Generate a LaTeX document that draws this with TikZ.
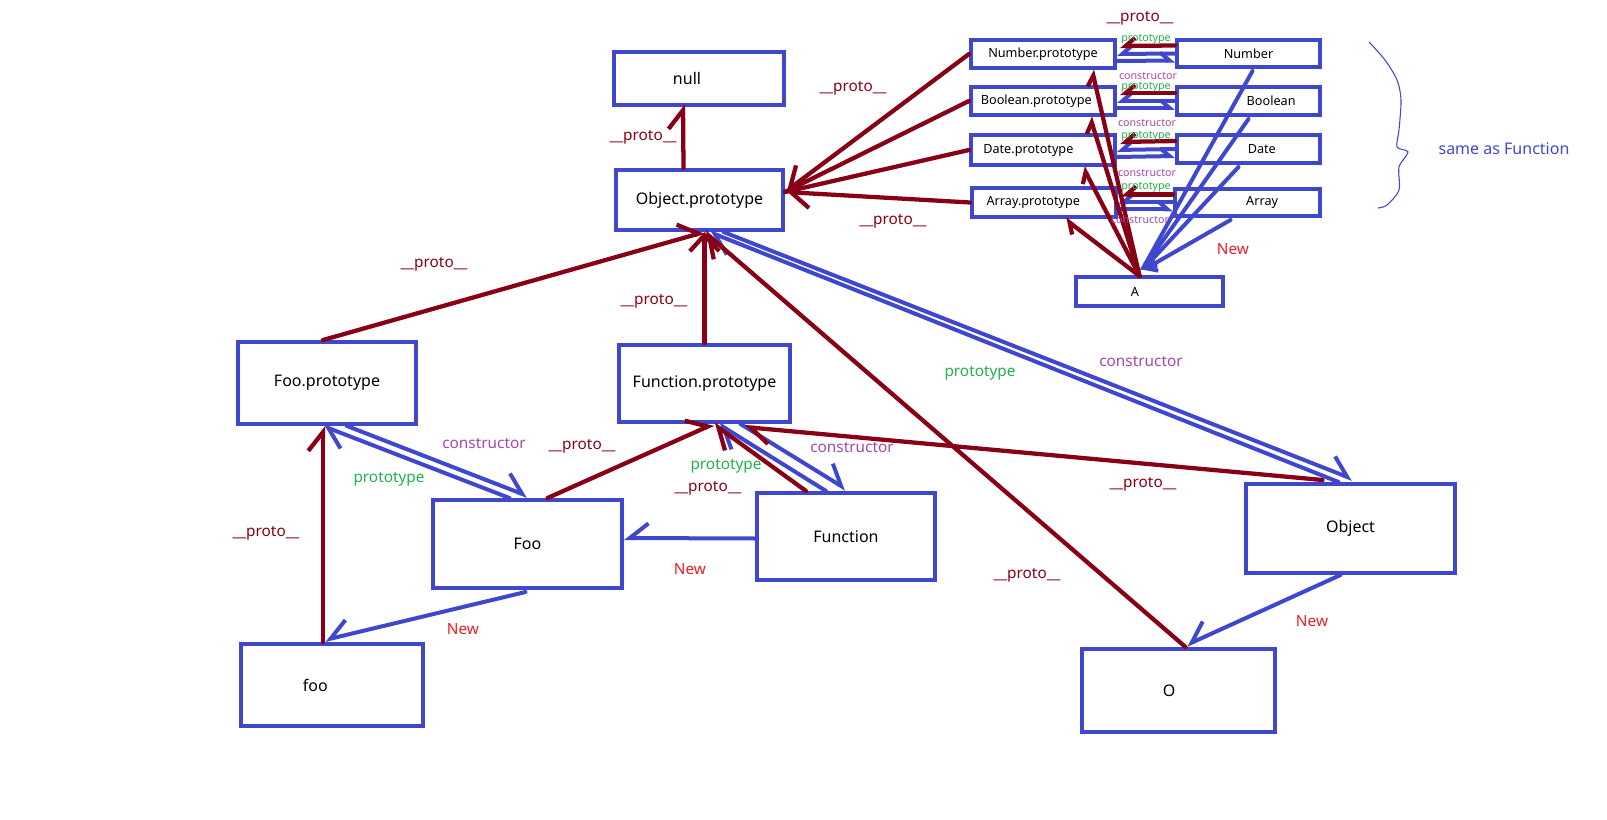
\documentclass[tikz,border=0pt]{standalone}
\usepackage{fontspec}
\setmainfont{Noto Sans}
\usetikzlibrary{arrows.meta, calc}

\definecolor{pblue}{RGB}{63,72,204}
\definecolor{pred}{RGB}{136,0,21}
\definecolor{pgreen}{RGB}{34,177,76}
\definecolor{ppurple}{RGB}{163,73,164}
\definecolor{pnew}{RGB}{237,28,36}

\begin{document}
\begin{tikzpicture}[
    x=0.75pt, y=-0.75pt,
    box/.style 2 args={draw=pblue, line width=3pt, minimum width=#1*0.75pt,
      minimum height=#2*0.75pt, inner sep=0pt, font=\fontsize{12}{14}\selectfont},
    sbox/.style 2 args={box={#1}{#2}, font=\fontsize{9.5}{11}\selectfont},
    proto/.style={draw=pred, line width=3.2pt, line cap=round},
    link/.style={draw=pblue, line width=3pt, line cap=round},
    hl/.style={-{Straight Barb[harpoon, length=14pt, width=22pt]}},
    hr/.style={-{Straight Barb[harpoon, swap, length=14pt, width=22pt]}},
    hv/.style={-{Straight Barb[length=12pt, width=22pt]}},
    sl/.style={-{Straight Barb[harpoon, length=7pt, width=12pt]}},
    sr/.style={-{Straight Barb[harpoon, swap, length=7pt, width=12pt]}},
    lbl/.style={inner sep=0pt, font=\fontsize{11.5}{13}\selectfont},
    tiny/.style={inner sep=0pt, font=\fontsize{8}{9}\selectfont}
  ]
  \useasboundingbox (0,0) rectangle (1607,820);

  % boxes
  \node[box={170}{53}] (null) at (699,78.5) {null\hspace*{18pt}};
  \node[box={167}{60}] (objp) at (699.5,200) {Object.prototype};
  \node[box={171}{77}] (funp) at (704.5,383.5) {Function.prototype};
  \node[box={178}{82}] (foop) at (327,383) {Foo.prototype};
  \node[box={189}{88}] (foo) at (527.5,544) {Foo};
  \node[box={182}{82}] (fooinst) at (332,685) {foo\hspace*{25pt}};
  \node[box={178}{87}] (func) at (846,536.5) {Function};
  \node[box={209}{89}] (obj) at (1350.5,528.5) {Object};
  \node[box={193}{83}] (oinst) at (1178.5,690.5) {O\hspace*{14pt}};

  \node[sbox={144}{28}] (nump) at (1043,54) {Number.prototype};
  \node[sbox={143}{27}] (num) at (1248.5,53.5) {Number};
  \node[sbox={144}{28}] (boolp) at (1043,101) {Boolean.prototype\hspace*{10pt}};
  \node[sbox={143}{28}] (bool) at (1248.5,101) {\hspace*{34pt}Boolean};
  \node[sbox={144}{30}] (datep) at (1043,150) {Date.prototype\hspace*{22pt}};
  \node[sbox={143}{28}] (date) at (1248.5,149) {\hspace*{20pt}Date};
  \node[sbox={144}{29}] (arrp) at (1044,202.5) {Array.prototype\hspace*{16pt}};
  \node[sbox={145}{27}] (arr) at (1247.5,202.5) {\hspace*{22pt}Array};
  \node[sbox={147}{29}] (A) at (1149.5,291.5) {A\hspace*{22pt}};

  % prototype / constructor / New
  \draw[link, hl] ($(foo.north)+(-18,0)$) -- ($(foop.south)+(-4,0)$);
  \draw[link, hl] ($(foop.south)+(20,0)$) -- ($(foo.north)+(0,-2)$);
  \draw[link, hl] ($(func.north)+(-20,0)$) -- ($(funp.south)+(14,0)$);
  \draw[link, hl] ($(funp.south)+(36,0)$) -- ($(func.north)+(0,-2)$);
  \draw[link, hl] ($(obj.north)+(-12,0)$) -- ($(objp.south)+(10,0)$);
  \draw[link, hl] ($(objp.south)+(24,0)$) -- ($(obj.north)+(2,-3)$);
  \draw[link, hr] ($(func.west)+(0,2)$) -- ($(foo.east)+(0,-6)$);
  \draw[link, hr] ($(foo.south)+(-2,2)$) -- ($(fooinst.north)+(-7,-2)$);
  \draw[link, hr] ($(obj.south)+(-10,0)$) -- ($(oinst.north)+(8,-2)$);

  \foreach \p/\c/\dx in {nump/num/4, boolp/bool/0, datep/date/-10, arrp/arr/-17} {
    \draw[link, sr] ($(\c.west)+(0,0)$) -- ($(\p.east)+(0,0)$);
    \draw[link, sl] ($(\p.east)+(0,7)$) -- ($(\c.west)+(0,7)$);
    \draw[link, sl] ($(\c.south)+(\dx,2)$) -- ($(A.north)+(-8,-4)$);
  }

  % __proto__
  \draw[proto, hl] ($(objp.north)+(-16,0)$) -- ($(null.south)+(-16,-3)$);
  \draw[proto, hr] (nump.west) -- ($(objp.east)+(0,-8)$);
  \draw[proto] (boolp.west) -- ($(objp.east)+(0,-8)$);
  \draw[proto] (datep.west) -- ($(objp.east)+(0,-8)$);
  \draw[proto, hl] (arrp.west) -- ($(objp.east)+(0,-8)$);
  \draw[proto, hl] ($(foop.north)+(-4,0)$) -- ($(objp.south)+(5,0)$);
  \draw[proto, hv] (funp.north) -- ($(objp.south)+(5,0)$);
  \draw[proto, hl] ($(oinst.north)+(7,0)$) -- ($(objp.south)+(5,0)$);
  \draw[proto, hl] ($(foo.north)+(20,0)$) -- ($(funp.south)+(9,0)$);
  \draw[proto, hl] ($(func.north)+(-40,0)$) -- ($(funp.south)+(9,0)$);
  \draw[proto, hl] ($(obj.north)+(-28,-2)$) -- ($(funp.south)+(40,3)$);
  \draw[proto, hl] ($(fooinst.north)+(-9,0)$) -- ($(foop.south)+(-4,0)$);
  \foreach \p/\dx in {nump/49, boolp/47, datep/40, arrp/21}
    \draw[proto, sl] ($(A.north)+(-10,1)$) -- ($(\p.south)+(\dx,0)$);
  \foreach \p/\c in {nump/num, boolp/bool, datep/date, arrp/arr}
    \draw[proto, sr] ($(\c.west)+(0,-8)$) -- ($(\p.east)+(3,-8)$);

  % labels
  \foreach \n/\x/\y in {1/1140/18, 2/853/88, 3/643/137, 4/893/221, 5/434/264, 6/654/301,
      7/582/446, 8/708/488, 9/1143/484, 10/266/533, 11/1027/575}
    \node[lbl, text=pred] (pr\n) at (\x,\y) {\_\_proto\_\_};
  \foreach \n/\x/\y in {1/980/373, 2/389/479, 3/726/466}
    \node[lbl, text=pgreen] (pt\n) at (\x,\y) {prototype};
  \foreach \n/\x/\y in {1/1141/362, 2/484/444, 3/852/448}
    \node[lbl, text=ppurple] (ct\n) at (\x,\y) {constructor};
  \foreach \n/\x/\y in {1/690/569, 2/463/629, 3/1312/621, 4/1233/249}
    \node[lbl, text=pnew] (new\n) at (\x,\y) {New};
  \foreach \n/\y in {1/39, 2/87, 3/136, 4/187}
    \node[tiny, text=pgreen] (spt\n) at (1146,\y) {prototype};
  \foreach \n/\x/\y in {1/1148/76, 2/1147/123, 3/1147/173, 4/1140/220}
    \node[tiny, text=ppurple] (sct\n) at (\x,\y) {constructor};

  % brace
  \draw[pblue, line width=0.8pt] plot[smooth] coordinates {(1369,42) (1385,60) (1397,80)
    (1401,100) (1399,130) (1397,147) (1408,152) (1399,167) (1399,190) (1387,205) (1378,208)};
  \node[font=\fontsize{12}{14}\selectfont, text=pblue, inner sep=0pt] (same) at (1504,149) {same as Function};
\end{tikzpicture}
\end{document}
